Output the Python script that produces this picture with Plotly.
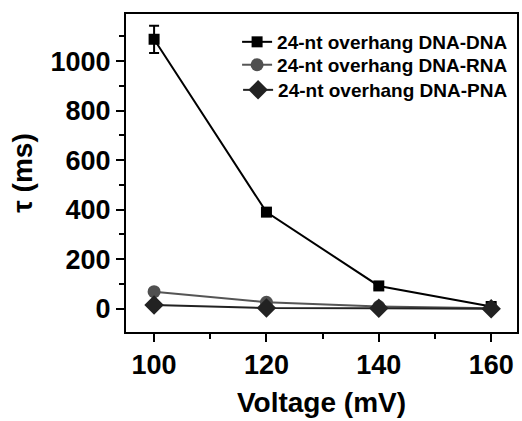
import plotly.graph_objects as go

voltage = [100, 120, 140, 160]
tau_dna_dna = [1088, 390, 92, 9]
err_dna_dna = [55, 14, 10, 12]
tau_dna_rna = [69, 26, 9, 2]
tau_dna_pna = [15, 3, 2, 0]

names = ["24-nt overhang DNA-DNA", "24-nt overhang DNA-RNA", "24-nt overhang DNA-PNA"]
x_ticks = [100, 120, 140, 160]
y_ticks = [0, 200, 400, 600, 800, 1000]

FONT = "Liberation Sans, Arial, sans-serif"

fig = go.Figure()
fig.add_trace(go.Scatter(
    x=voltage, y=tau_dna_dna, name=names[0], mode="lines+markers", legend="legend",
    line=dict(color="#000000", width=2),
    marker=dict(symbol="square", size=11, color="#000000"),
    error_y=dict(type="data", array=err_dna_dna, visible=True, color="#000000", thickness=2, width=5),
))
fig.add_trace(go.Scatter(
    x=voltage, y=tau_dna_rna, name=names[1], mode="lines+markers", legend="legend2",
    line=dict(color="#555555", width=2),
    marker=dict(symbol="circle", size=13, color="#505050"),
))
fig.add_trace(go.Scatter(
    x=voltage, y=tau_dna_pna, name=names[2], mode="lines+markers", legend="legend3",
    line=dict(color="#222222", width=2),
    marker=dict(symbol="diamond", size=15, color="#222222"),
))

def leg(y):
    return dict(
        x=0.99, xanchor="right", y=y, yanchor="middle",
        bgcolor="rgba(0,0,0,0)", borderwidth=0,
        font=dict(family=FONT, size=19, weight="bold", color="black"),
        itemwidth=30,
    )

fig.update_layout(
    width=522, height=421,
    margin=dict(l=126, r=3, t=14, b=89),
    paper_bgcolor="white", plot_bgcolor="white",
    font=dict(family=FONT, color="black", size=27, weight="bold"),
    showlegend=True,
    legend=leg(0.912),
    legend2=leg(0.840),
    legend3=leg(0.761),
    xaxis=dict(
        range=[95, 164.6], tickvals=x_ticks, ticktext=[str(v) for v in x_ticks],
        showline=True, linecolor="black", linewidth=2, mirror=True,
        ticks="outside", ticklen=8, tickwidth=2, tickcolor="black",
        minor=dict(ticks="outside", ticklen=5, tickwidth=2, tickcolor="black", dtick=10),
        showgrid=False, zeroline=False,
        tickfont=dict(family=FONT, size=27, weight="bold"),
        title=dict(text="Voltage (mV)", font=dict(family=FONT, size=28, weight="bold"), standoff=13),
    ),
    yaxis=dict(
        range=[-94, 1190], tickvals=y_ticks, ticktext=[str(v) for v in y_ticks],
        showline=True, linecolor="black", linewidth=2, mirror=True,
        ticks="outside", ticklen=8, tickwidth=2, tickcolor="black",
        minor=dict(ticks="outside", ticklen=5, tickwidth=2, tickcolor="black", dtick=100),
        showgrid=False, zeroline=False,
        tickfont=dict(family=FONT, size=27, weight="bold"),
        title=dict(text="τ (ms)", font=dict(family=FONT, size=28, weight="bold"), standoff=10),
    ),
)

fig.write_html("out.html")
